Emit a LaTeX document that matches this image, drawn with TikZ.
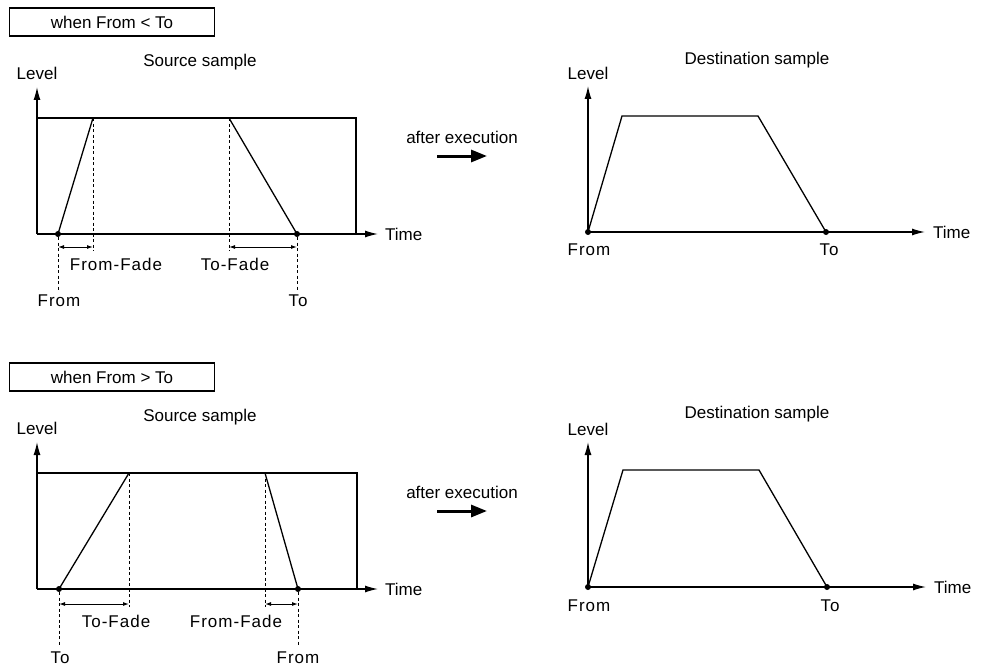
\documentclass[tikz,border=0pt]{standalone}
\usepackage{fontspec}
\setmainfont{Liberation Sans}
\newfontfamily\spacedfont[LetterSpace=6]{Liberation Sans}
\usetikzlibrary{arrows.meta, positioning, calc}

\begin{document}
\begin{tikzpicture}[
  x=1pt, y=-1pt,
  every node/.style={font=\fontsize{17}{19}\selectfont, inner sep=0pt},
  casebox/.style={draw, line width=1.4pt, minimum width=205pt, minimum height=28pt},
  axis/.style={line width=1.3pt, -{Latex[length=13pt,width=7pt]}},
  envelope/.style={line width=1.3pt},
  guide/.style={line width=0.8pt, dash pattern=on 3pt off 2.5pt},
  dimline/.style={line width=1pt, {Latex[length=6pt,width=4pt]}-{Latex[length=6pt,width=4pt]}},
  dot/.style={circle, fill, minimum size=6pt},
  marker/.style={font=\spacedfont\fontsize{17}{19}\selectfont},
  bigarrow/.style={line width=3pt, -{Triangle[length=16pt,width=12pt]}}
]
\useasboundingbox (0,0) rectangle (981,666);

% Case 1: From < To, source sample
\node[casebox] (caseA) at (112,22) {when From < To};
\node (srcA) at (200,62) {Source sample};
\coordinate (oA) at (37,234);
\coordinate (lvA) at (37,87);
\coordinate (tmA) at (378,234);
\coordinate (cornerA) at (356,118);
\node[above=7pt of lvA] (levelA) {Level};
\node[right=7pt of tmA] (timeA) {Time};
\draw[envelope] (oA |- cornerA) -- (cornerA) -- (cornerA |- oA);
\draw[axis] (oA) -- (lvA);
\draw[axis] (oA) -- (tmA);

\node[dot] (fromA) at (58,234) {};
\node[dot] (toA) at (297,234) {};
\coordinate (inA) at (93,118);
\coordinate (outA) at (229,118);
\draw[envelope] (fromA.center) -- (inA);
\draw[envelope] (outA) -- (toA.center);

% fade lengths
\coordinate (dimA) at (0,247);
\coordinate (lowA) at (0,251);
\draw[guide] (inA) -- (inA |- lowA);
\draw[guide] (outA) -- (outA |- lowA);
\draw[dimline] (fromA |- dimA) -- (inA |- dimA);
\draw[dimline] (outA |- dimA) -- (toA |- dimA);
\node[marker] (fromfadeA) at (116,264) {From-Fade};
\node[marker] (tofadeA) at (235,264) {To-Fade};
\node[marker] (fromtxtA) at (59,301) {From};
\node[marker] (totxtA) at (298,301) {To};
\draw[guide, shorten >=5pt] (fromA) -- (fromA |- fromtxtA.north);
\draw[guide, shorten >=5pt] (toA) -- (toA |- totxtA.north);

% Case 1: destination sample
\node (afterA) at (462,137) {after execution};
\coordinate (goA) at (437,156);
\coordinate (arrivA) at (487,156);
\draw[bigarrow] (goA) -- (arrivA);
\node (dstA) at (757,60) {Destination sample};
\node[dot] (dfromA) at (588,232) {};
\node[dot] (dtoA) at (826,232) {};
\coordinate (dlvA) at (588,86);
\coordinate (dtmA) at (925,232);
\node[above=6pt of dlvA] (dlevelA) {Level};
\node[right=8pt of dtmA] (dtimeA) {Time};
\draw[axis] (dfromA.center) -- (dlvA);
\draw[axis] (dfromA.center) -- (dtmA);
\coordinate (dinA) at (622,116);
\coordinate (doutA) at (758,116);
\draw[envelope] (dfromA.center) -- (dinA) -- (doutA) -- (dtoA.center);
\node[marker] (dfromtxtA) at (589,250) {From};
\node[marker] (dtotxtA) at (829,250) {To};

% Case 2: From > To, source sample
\node[casebox] (caseB) at (112,377) {when From > To};
\node (srcB) at (200,417) {Source sample};
\coordinate (oB) at (37,589);
\coordinate (lvB) at (37,442);
\coordinate (tmB) at (378,589);
\coordinate (cornerB) at (357,473);
\node[above=7pt of lvB] (levelB) {Level};
\node[right=7pt of tmB] (timeB) {Time};
\draw[envelope] (oB |- cornerB) -- (cornerB) -- (cornerB |- oB);
\draw[axis] (oB) -- (lvB);
\draw[axis] (oB) -- (tmB);

\node[dot] (toB) at (59,589) {};
\node[dot] (fromB) at (298,589) {};
\coordinate (inB) at (129,473);
\coordinate (outB) at (265,473);
\draw[envelope] (toB.center) -- (inB);
\draw[envelope] (outB) -- (fromB.center);

% fade lengths
\coordinate (dimB) at (0,604);
\coordinate (lowB) at (0,607);
\draw[guide] (inB) -- (inB |- lowB);
\draw[guide] (outB) -- (outB |- lowB);
\draw[dimline] (toB |- dimB) -- (inB |- dimB);
\draw[dimline] (outB |- dimB) -- (fromB |- dimB);
\node[marker] (tofadeB) at (116,621) {To-Fade};
\node[marker] (fromfadeB) at (236,621) {From-Fade};
\node[marker] (totxtB) at (60,658) {To};
\node[marker] (fromtxtB) at (298,658) {From};
\draw[guide, shorten >=5pt] (toB) -- (toB |- totxtB.north);
\draw[guide, shorten >=5pt] (fromB) -- (fromB |- fromtxtB.north);

% Case 2: destination sample
\node (afterB) at (462,492) {after execution};
\coordinate (goB) at (437,511);
\coordinate (arrivB) at (487,511);
\draw[bigarrow] (goB) -- (arrivB);
\node (dstB) at (757,414) {Destination sample};
\node[dot] (dfromB) at (588,587) {};
\node[dot] (dtoB) at (827,587) {};
\coordinate (dlvB) at (588,442);
\coordinate (dtmB) at (926,587);
\node[above=6pt of dlvB] (dlevelB) {Level};
\node[right=8pt of dtmB] (dtimeB) {Time};
\draw[axis] (dfromB.center) -- (dlvB);
\draw[axis] (dfromB.center) -- (dtmB);
\coordinate (dinB) at (623,470);
\coordinate (doutB) at (759,470);
\draw[envelope] (dfromB.center) -- (dinB) -- (doutB) -- (dtoB.center);
\node[marker] (dfromtxtB) at (589,606) {From};
\node[marker] (dtotxtB) at (830,606) {To};

\end{tikzpicture}
\end{document}
